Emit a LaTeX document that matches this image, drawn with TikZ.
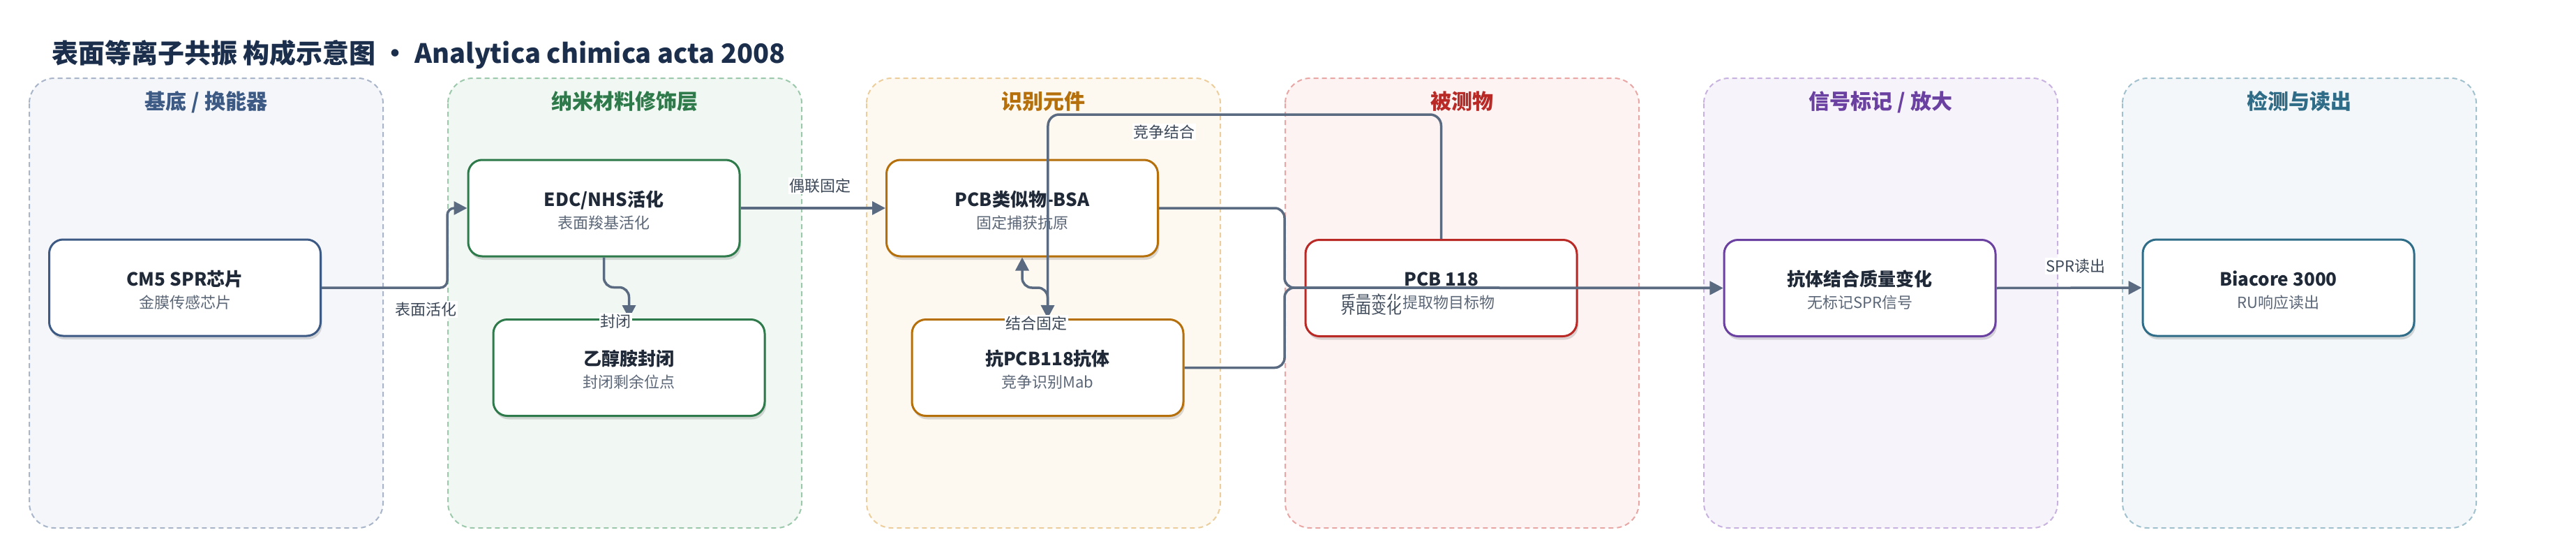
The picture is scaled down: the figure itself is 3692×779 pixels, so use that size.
\documentclass[tikz,border=0pt]{standalone}
\usepackage{fontspec}
\setmainfont{Noto Sans CJK SC}
\usetikzlibrary{arrows.meta,shadows,calc}
\definecolor{titlec}{HTML}{1B2E4B}
\definecolor{ntext}{HTML}{1F2937}
\definecolor{stext}{HTML}{5B6677}
\definecolor{ltext}{HTML}{3C4858}
\definecolor{edgec}{HTML}{5A6A80}
% lane colours: fill, dash, accent
\definecolor{fA}{HTML}{F4F6FA}\definecolor{dA}{HTML}{A9B5C9}\definecolor{cA}{HTML}{3D5A85}
\definecolor{fB}{HTML}{F1F8F3}\definecolor{dB}{HTML}{9CC9AC}\definecolor{cB}{HTML}{2E7A4A}
\definecolor{fC}{HTML}{FEF9F0}\definecolor{dC}{HTML}{ECCE9C}\definecolor{cC}{HTML}{B5700C}
\definecolor{fD}{HTML}{FDF3F2}\definecolor{dD}{HTML}{E8A6A4}\definecolor{cD}{HTML}{B92A27}
\definecolor{fE}{HTML}{F7F3FB}\definecolor{dE}{HTML}{C8B2DF}\definecolor{cE}{HTML}{6A40A1}
\definecolor{fF}{HTML}{F3F7F9}\definecolor{dF}{HTML}{A2C1CE}\definecolor{cF}{HTML}{2E6C88}
\begin{document}
\begin{tikzpicture}[x=1pt,y=-1pt,
  lane/.style 2 args={fill=#1, draw=#2, dash pattern=on 7pt off 5pt, line width=2pt, rounded corners=36pt},
  lanehead/.style={font=\bfseries\fontsize{30}{34}\selectfont, text=#1, anchor=base, inner sep=0pt},
  box/.style={draw=#1, line width=3pt, fill=white, rounded corners=20pt, minimum width=389pt, minimum height=138pt, inner sep=0pt,
    drop shadow={shadow xshift=2pt, shadow yshift=-5pt, opacity=0.14, fill=black}},
  ntitle/.style={font=\bfseries\fontsize{26}{30}\selectfont, text=ntext, anchor=base, inner sep=0pt},
  nsub/.style={font=\fontsize{22}{26}\selectfont, text=stext, anchor=base, inner sep=0pt},
  edge/.style={draw=edgec, line width=3.5pt, rounded corners=14pt, -{Triangle[length=19pt,width=19pt]}},
  elabel/.style={fill=white, inner sep=1.5pt, text=ltext, font=\fontsize{22}{26}\selectfont}
]
\useasboundingbox (0,0) rectangle (3692,779);
\fill[white] (0,0) rectangle (3692,779);

% title
\node[anchor=base west, inner sep=0pt, text=titlec, font=\bfseries\fontsize{38}{44}\selectfont] (title) at (74,90)
  {表面等离子共振 构成示意图 • Analytica chimica acta 2008};

% lanes
\draw[lane={fA}{dA}] (42,112) rectangle (549,756);
\draw[lane={fB}{dB}] (642,112) rectangle (1149,756);
\draw[lane={fC}{dC}] (1242,112) rectangle (1749,756);
\draw[lane={fD}{dD}] (1842,112) rectangle (2349,756);
\draw[lane={fE}{dE}] (2442,112) rectangle (2949,756);
\draw[lane={fF}{dF}] (3042,112) rectangle (3549,756);
\node[lanehead=cA] (hA) at (295.5,156) {基底 / 换能器};
\node[lanehead=cB] (hB) at (895.5,156) {纳米材料修饰层};
\node[lanehead=cC] (hC) at (1495.5,156) {识别元件};
\node[lanehead=cD] (hD) at (2095.5,156) {被测物};
\node[lanehead=cE] (hE) at (2695.5,156) {信号标记 / 放大};
\node[lanehead=cF] (hF) at (3295.5,156) {检测与读出};

% nodes
\node[box=cA] (cm5) at (265,412) {};
\node[box=cB] (edc) at (865.5,298) {};
\node[box=cB] (eth) at (901.5,526.5) {};
\node[box=cC] (bsa) at (1465,298) {};
\node[box=cC] (anti) at (1501.5,526.5) {};
\node[box=cD] (pcb) at (2065.5,412.5) {};
\node[box=cE] (sig) at (2665.5,412.5) {};
\node[box=cF] (bia) at (3265.5,412) {};

\node[ntitle] at ($(cm5.center)+(0,-3)$) {CM5 SPR芯片};
\node[nsub]   at ($(cm5.center)+(0,29)$) {金膜传感芯片};
\node[ntitle] at ($(edc.center)+(0,-3)$) {EDC/NHS活化};
\node[nsub]   at ($(edc.center)+(0,29)$) {表面羧基活化};
\node[ntitle] at ($(eth.center)+(0,-3)$) {乙醇胺封闭};
\node[nsub]   at ($(eth.center)+(0,29)$) {封闭剩余位点};
\node[ntitle] at ($(bsa.center)+(0,-3)$) {PCB类似物-BSA};
\node[nsub]   at ($(bsa.center)+(0,29)$) {固定捕获抗原};
\node[ntitle] at ($(anti.center)+(0,-3)$) {抗PCB118抗体};
\node[nsub]   at ($(anti.center)+(0,29)$) {竞争识别Mab};
\node[ntitle] at ($(pcb.center)+(0,-3)$) {PCB 118};
\node[nsub]   at ($(pcb.center)+(11,29)$) {提取物目标物};
\node[ntitle] at ($(sig.center)+(0,-3)$) {抗体结合质量变化};
\node[nsub]   at ($(sig.center)+(0,29)$) {无标记SPR信号};
\node[ntitle] at ($(bia.center)+(0,-3)$) {Biacore 3000};
\node[nsub]   at ($(bia.center)+(0,29)$) {RU响应读出};

% edges
\draw[edge, rounded corners=10pt] (cm5.east) -| (641,298) -- (edc.west);
\draw[edge] (edc.south) -- ++(0,43) -| (eth.north);
\draw[edge] (edc.east) -- (bsa.west);
\draw[edge] (anti.north) -- ++(0,-44) -| (bsa.south);
\draw[edge, rounded corners=16pt] (pcb.north) |- (1502,164) -- (anti.north);
\draw[edge] (bsa.east) -| (1841,412) -- (sig.west);
\draw[edge] (anti.east) -| (1841,412) -- (sig.west);
\draw[edge] (sig.east) -- (bia.west);

% edge labels
\node[elabel] (l1) at (610,443) {表面活化};
\node[elabel] (l2) at (882,460) {封闭};
\node[elabel] (l3) at (1175,266) {偶联固定};
\node[elabel] (l4) at (1485,463) {结合固定};
\node[elabel] (l5) at (1668,189) {竞争结合};
\node[elabel] (l6) at (1965,431) {质量变化};
\node[elabel] (l7) at (1965,441) {界面变化};
\node[elabel] (l8) at (2975,381) {SPR读出};
\end{tikzpicture}
\end{document}
